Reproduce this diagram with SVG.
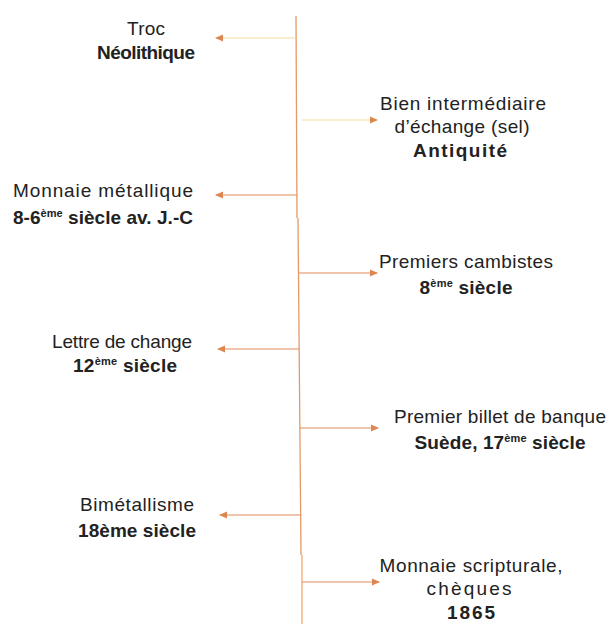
<svg xmlns="http://www.w3.org/2000/svg" width="614" height="626" viewBox="0 0 614 626">
<defs>
<marker id="ah" markerWidth="8" markerHeight="8" refX="7" refY="4" orient="auto" markerUnits="userSpaceOnUse">
<path d="M0,0.5 L8,4 L0,7.5 Z" fill="#DD8650"/>
</marker>
<style>
.t{font-family:"Liberation Sans",Arial,sans-serif;font-size:19px;fill:#222}
.b{font-weight:bold}
.c{text-anchor:middle}
.s{font-size:11px}
.ln{stroke:#E39A68;stroke-width:1.3;fill:none}
.ar{stroke:#E08C58;stroke-width:1.2;fill:none;marker-end:url(#ah)}
</style>
</defs>
<rect width="614" height="626" fill="#fff"/>
<g id="connectors">
<path class="ln" d="M296,16 L297,218"/>
<path class="ln" d="M298,218 L301,555"/>
<path class="ln" d="M302,555 L302,624" style="stroke:#F2A870"/>
<path class="ar" d="M296,38 L216,38" style="stroke:#F6D9A0"/>
<path class="ar" d="M302,120 L377,120" style="stroke:#F6D9A0"/>
<path class="ar" d="M297,195 L216,195"/>
<path class="ar" d="M299,273 L377,273"/>
<path class="ar" d="M299,349 L218,349"/>
<path class="ar" d="M300,428 L378,428"/>
<path class="ar" d="M301,515 L220,515"/>
<path class="ar" d="M302,582 L379,582"/>
</g>
<g id="n1"><text class="t c" x="146" y="35" textLength="38" lengthAdjust="spacing">Troc</text><text class="t b c" x="146" y="59" textLength="98" lengthAdjust="spacing">Néolithique</text></g>
<g id="n2"><text class="t c" x="463" y="110" textLength="166" lengthAdjust="spacing">Bien intermédiaire</text><text class="t c" x="462" y="133" textLength="135" lengthAdjust="spacing">d’échange (sel)</text><text class="t b c" x="460" y="157" textLength="94" lengthAdjust="spacing">Antiquité</text></g>
<g id="n3"><text class="t" x="13" y="197" textLength="180" lengthAdjust="spacing">Monnaie métallique</text><text class="t b" x="13" y="224" textLength="180" lengthAdjust="spacing">8-6<tspan class="s" dy="-7">ème</tspan><tspan dy="7"> siècle av. J.-C</tspan></text></g>
<g id="n4"><text class="t c" x="466" y="268" textLength="174" lengthAdjust="spacing">Premiers cambistes</text><text class="t b c" x="466" y="294" textLength="93" lengthAdjust="spacing">8<tspan class="s" dy="-7">ème</tspan><tspan dy="7"> siècle</tspan></text></g>
<g id="n5"><text class="t c" x="122" y="348" textLength="140" lengthAdjust="spacing">Lettre de change</text><text class="t b c" x="125" y="372" textLength="104" lengthAdjust="spacing">12<tspan class="s" dy="-7">ème</tspan><tspan dy="7"> siècle</tspan></text></g>
<g id="n6"><text class="t c" x="500" y="423" textLength="212" lengthAdjust="spacing">Premier billet de banque</text><text class="t b c" x="500" y="449" textLength="171" lengthAdjust="spacing">Suède, 17<tspan class="s" dy="-7">ème</tspan><tspan dy="7"> siècle</tspan></text></g>
<g id="n7"><text class="t c" x="137" y="511" textLength="114" lengthAdjust="spacing">Bimétallisme</text><text class="t b c" x="137" y="537" textLength="118" lengthAdjust="spacing">18ème siècle</text></g>
<g id="n8"><text class="t c" x="471" y="572" textLength="183" lengthAdjust="spacing">Monnaie scripturale,</text><text class="t c" x="469" y="595" textLength="85" lengthAdjust="spacing">chèques</text><text class="t b c" x="471" y="619" textLength="48" lengthAdjust="spacing">1865</text></g>
</svg>
